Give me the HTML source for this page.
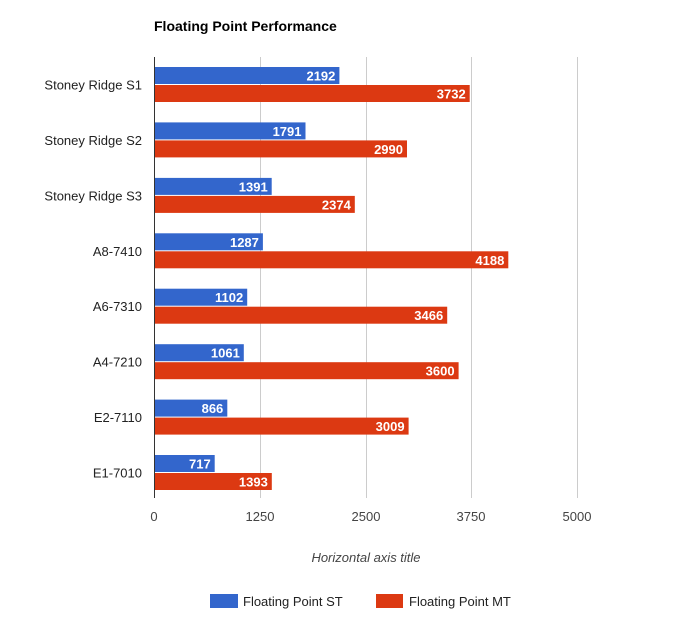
<!DOCTYPE html>
<html><head><style>body{margin:0;background:#fff}svg{display:block}text{font-family:"Liberation Sans",Arial,sans-serif}</style></head><body>
<svg width="686" height="629" xmlns="http://www.w3.org/2000/svg">
<text x="154" y="31" font-size="14" font-weight="bold" fill="#000">Floating Point Performance</text>
<g stroke="#ccc" stroke-width="1">
<line x1="260.5" y1="57" x2="260.5" y2="498"/><line x1="366.5" y1="57" x2="366.5" y2="498"/><line x1="471.5" y1="57" x2="471.5" y2="498"/><line x1="577.5" y1="57" x2="577.5" y2="498"/>
</g>
<g font-size="13" fill="#222" text-anchor="end">
<text x="142" y="89.5">Stoney Ridge S1</text>
<text x="142" y="144.9">Stoney Ridge S2</text>
<text x="142" y="200.4">Stoney Ridge S3</text>
<text x="142" y="255.8">A8-7410</text>
<text x="142" y="311.2">A6-7310</text>
<text x="142" y="366.7">A4-7210</text>
<text x="142" y="422.1">E2-7110</text>
<text x="142" y="477.5">E1-7010</text>
</g>
<g fill="#3366cc">
<rect x="154" y="67" width="185.4" height="17"/>
<rect x="154" y="122.4" width="151.5" height="17"/>
<rect x="154" y="177.9" width="117.7" height="17"/>
<rect x="154" y="233.3" width="108.9" height="17"/>
<rect x="154" y="288.7" width="93.2" height="17"/>
<rect x="154" y="344.2" width="89.8" height="17"/>
<rect x="154" y="399.6" width="73.3" height="17"/>
<rect x="154" y="455" width="60.7" height="17"/>
</g>
<g fill="#dc3912">
<rect x="154" y="85" width="315.7" height="17"/>
<rect x="154" y="140.4" width="253" height="17"/>
<rect x="154" y="195.9" width="200.8" height="17"/>
<rect x="154" y="251.3" width="354.3" height="17"/>
<rect x="154" y="306.7" width="293.2" height="17"/>
<rect x="154" y="362.2" width="304.6" height="17"/>
<rect x="154" y="417.6" width="254.6" height="17"/>
<rect x="154" y="473" width="117.8" height="17"/>
</g>
<g font-size="13" font-weight="bold" fill="#fff" text-anchor="end">
<text x="335.4" y="80.5">2192</text><text x="465.7" y="98.5">3732</text>
<text x="301.5" y="135.9">1791</text><text x="403" y="153.9">2990</text>
<text x="267.7" y="191.4">1391</text><text x="350.8" y="209.4">2374</text>
<text x="258.9" y="246.8">1287</text><text x="504.3" y="264.8">4188</text>
<text x="243.2" y="302.2">1102</text><text x="443.2" y="320.2">3466</text>
<text x="239.8" y="357.7">1061</text><text x="454.6" y="375.7">3600</text>
<text x="223.3" y="413.1">866</text><text x="404.6" y="431.1">3009</text>
<text x="210.7" y="468.5">717</text><text x="267.8" y="486.5">1393</text>
</g>
<line x1="154.5" y1="57" x2="154.5" y2="498" stroke="#333" stroke-width="1"/>
<g font-size="13" fill="#444" text-anchor="middle">
<text x="154" y="521">0</text><text x="260" y="521">1250</text><text x="366" y="521">2500</text><text x="471" y="521">3750</text><text x="577" y="521">5000</text>
</g>
<text x="366" y="562" font-size="13" font-style="italic" fill="#444" text-anchor="middle">Horizontal axis title</text>
<rect x="210" y="594" width="28" height="14" fill="#3366cc"/>
<text x="243" y="606" font-size="13" fill="#222">Floating Point ST</text>
<rect x="376" y="594" width="27" height="14" fill="#dc3912"/>
<text x="409" y="606" font-size="13" fill="#222">Floating Point MT</text>
</svg>
</body></html>
